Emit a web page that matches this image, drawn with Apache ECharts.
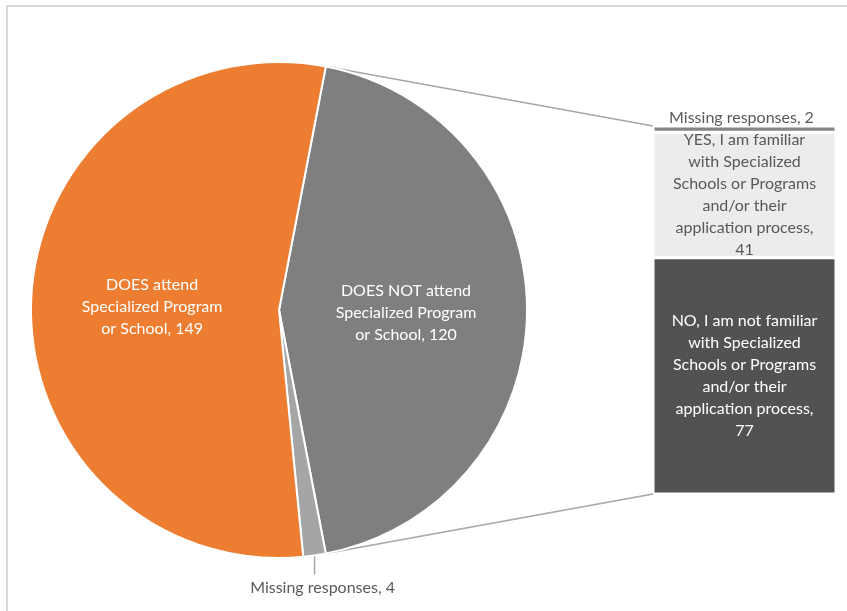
<!DOCTYPE html>
<html>
<head>
<meta charset="utf-8">
<script src="https://cdn.jsdelivr.net/npm/echarts@6/dist/echarts.min.js"></script>
<style>
  html, body { margin: 0; padding: 0; background: #fff; }
  #chart { width: 847px; height: 611px; }
</style>
</head>
<body>
<div id="chart"></div>
<script>
// Attendance split (pie) and familiarity breakdown of the non-attending group (bar)
const pieNames = [
  'DOES NOT attend\nSpecialized Program\nor School',
  'Missing responses',
  'DOES attend\nSpecialized Program\nor School'
];
const pieValues = [120, 4, 149];
const pieColors = ['#7f7f7f', '#a5a5a5', '#ed7d31'];

// stacked from the bottom up
const barNames = [
  'NO, I am not familiar\nwith Specialized\nSchools or Programs\nand/or their\napplication process',
  'YES, I am familiar\nwith Specialized\nSchools or Programs\nand/or their\napplication process',
  'Missing responses'
];
const barValues = [77, 41, 2];
const barColors = ['#525252', '#ececec', '#858585'];
const barLabelColors = ['#ffffff', '#595959', '#595959'];

const FONT = 'Lato';
const FONT_SIZE = 16;
const PIE_CX = 279, PIE_CY = 310, PIE_R = 248;

const pieTotal = pieValues.reduce((a, b) => a + b, 0);
const splitSweep = 360 * pieValues[0] / pieTotal;
// the exploded slice is centred on the 3 o'clock direction
const startAngle = splitSweep / 2;

const chart = echarts.init(document.getElementById('chart'));

const barTotal = barValues.reduce((a, b) => a + b, 0);

const option = {
  animation: false,
  backgroundColor: '#ffffff',
  textStyle: { fontFamily: FONT },
  grid: { left: 653, top: 126, width: 183, bottom: 117 },
  xAxis: { type: 'category', data: ['group'], show: false },
  yAxis: { type: 'value', min: 0, max: barTotal, show: false },
  series: [
    {
      type: 'pie',
      center: [PIE_CX, PIE_CY],
      radius: [0, PIE_R],
      startAngle: startAngle,
      clockwise: true,
      avoidLabelOverlap: false,
      itemStyle: { borderColor: '#ffffff', borderWidth: 2 },
      data: pieNames.map((n, i) => ({
        name: n,
        value: pieValues[i],
        itemStyle: { color: pieColors[i] },
        label: i === 1
          ? { position: 'outside', color: '#595959' }
          : { position: 'inside', color: '#ffffff', offset: [0, 3] },
        labelLine: i === 1
          ? { show: true, length: 18, length2: 0, lineStyle: { color: '#a6a6a6', width: 1.5 } }
          : { show: false }
      })),
      label: {
        formatter: '{b}, {c}',
        fontFamily: FONT,
        fontSize: FONT_SIZE,
        lineHeight: 22,
        align: 'center'
      },
      labelLayout: function (p) {
        if (p.dataIndex !== 1 || !p.labelLinePoints) return {};
        const a = p.labelLinePoints[0];
        const ex = a[0], ey = a[1] + 19;
        return {
          x: ex + 8,
          y: ey + 2,
          align: 'center',
          verticalAlign: 'top',
          labelLinePoints: [[ex, a[1]], [ex, ey], [ex, ey]]
        };
      }
    }
  ].concat(barNames.map((n, i) => ({
    type: 'bar',
    name: n,
    stack: 'familiar',
    barWidth: '100%',
    data: [barValues[i]],
    itemStyle: { color: barColors[i], borderColor: '#ffffff', borderWidth: 1.5 },
    label: {
      show: true,
      position: i === 2 ? 'top' : 'inside',
      distance: 1,
      offset: i === 2 ? [-3, 4] : [0, 0],
      color: barLabelColors[i],
      fontFamily: FONT,
      fontSize: FONT_SIZE,
      lineHeight: 22,
      align: 'center',
      formatter: p => p.seriesName + (p.seriesName.indexOf('\n') >= 0 ? ',\n' : ', ') + p.value
    }
  })))
};

chart.setOption(option);

// connector lines from the split slice edges to the bar corners
function piePoint(deg) {
  const a = deg * Math.PI / 180;
  return [PIE_CX + PIE_R * Math.cos(a), PIE_CY - PIE_R * Math.sin(a)];
}
const pTop = piePoint(startAngle);
const pBot = piePoint(startAngle - splitSweep);
const barLeft = chart.convertToPixel({ xAxisIndex: 0 }, 'group') - 183 / 2;
const barTop = chart.convertToPixel({ yAxisIndex: 0 }, barTotal);
const barBot = chart.convertToPixel({ yAxisIndex: 0 }, 0);

chart.setOption({
  graphic: [
    {
      type: 'rect',
      shape: { x: 7, y: 6, width: 900, height: 700 },
      style: { fill: 'none', stroke: '#d9d9d9', lineWidth: 2 },
      silent: true
    },
    {
      type: 'line',
      shape: { x1: pTop[0], y1: pTop[1], x2: barLeft, y2: barTop },
      style: { stroke: '#a6a6a6', lineWidth: 1.5 },
      silent: true
    },
    {
      type: 'line',
      shape: { x1: pBot[0], y1: pBot[1], x2: barLeft, y2: barBot },
      style: { stroke: '#a6a6a6', lineWidth: 1.5 },
      silent: true
    }
  ]
});
</script>
</body>
</html>
